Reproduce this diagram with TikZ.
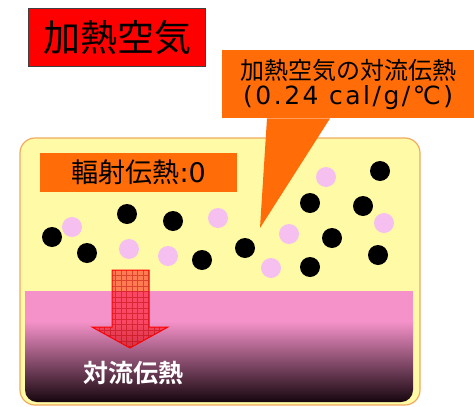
\documentclass[tikz,border=0pt]{standalone}
\usepackage{fontspec}
\setmainfont{Noto Sans CJK JP}
\newfontfamily\jpbold{Noto Sans CJK JP Bold}
\newfontfamily\widelatin{DejaVu Sans}
\newfontfamily\spacedlatin[LetterSpace=10]{DejaVu Sans}
\usetikzlibrary{positioning}

\definecolor{airred}{RGB}{255,0,0}
\definecolor{heatorange}{RGB}{255,108,8}
\definecolor{ovenyellow}{RGB}{255,250,165}
\definecolor{ovenedge}{RGB}{240,170,95}
\definecolor{dotpink}{RGB}{245,192,240}
\definecolor{foodpink}{RGB}{246,146,202}
\definecolor{fooddark}{RGB}{22,6,14}

\begin{document}
\begin{tikzpicture}[x=1pt, y=-1pt,
  dot/.style={circle, inner sep=0pt, minimum size=20pt},
  tag/.style={anchor=north west, inner sep=0pt, text=black}]
\useasboundingbox (0,0) rectangle (474,407);

% oven chamber with the food layer at the bottom
\draw[ovenedge, line width=1.2pt, fill=ovenyellow, rounded corners=15pt] (20,138) rectangle (420,405);
\begin{scope}
  \clip[rounded corners=12pt] (25,140) rectangle (413,402);
  \fill[foodpink] (25,291) rectangle (413,322);
  \shade[top color=foodpink, bottom color=fooddark] (25,321) rectangle (413,402);
\end{scope}

% air molecules: hot ones black, cooler ones pink
\foreach \px/\py [count=\n] in {52/237, 87/253, 127/214, 173/221, 202/260, 245/248,
    310/203, 310/267, 332/238, 363/206, 380/171, 378/255}
  \node[dot, fill=black] (hot\n) at (\px,\py) {};
\foreach \px/\py [count=\n] in {72/227, 129/249, 168/256, 218/218, 289/234,
    271/268, 326/177, 384/223}
  \node[dot, fill=dotpink] (cool\n) at (\px,\py) {};

% heat flowing into the food
\draw[red, line width=1pt, fill=red, fill opacity=.5,
  path picture={\draw[red!70!black, opacity=.45, step=5.5pt]
    (path picture bounding box.south west) grid (path picture bounding box.north east);}]
  (112,270) -- (149,270) -- (149,327) -- (168,327) -- (130,348) -- (92,327) -- (112,327) -- cycle;
\node[text=white, font=\jpbold\fontsize{25}{28}\selectfont] (conduct) at (133,373) {対流伝熱};

% labels
\node[tag, draw=black!75, line width=1pt, fill=airred, minimum width=177pt, minimum height=58pt,
  anchor=north west, font=\fontsize{37}{40}\selectfont] (air) at (28,8) {加熱空気};
\node[tag, fill=heatorange, minimum width=197pt, minimum height=39pt,
  font=\fontsize{27}{30}\selectfont] (radiant) at (40,153) {輻射伝熱{\widelatin:0}};
\node[tag, fill=heatorange, minimum width=252pt, minimum height=68pt, align=center,
  font=\fontsize{24}{25}\selectfont] (convect) at (222,50)
  {加熱空気の対流伝熱\\{\spacedlatin\fontsize{25}{25}\selectfont(0.24 cal/g/℃)}};

% callout pointer down to a molecule
\coordinate (tip) at (260,228);
\fill[heatorange] ([xshift=45pt]convect.south west) -- ([xshift=108pt]convect.south west) -- (tip) -- cycle;
\end{tikzpicture}
\end{document}
